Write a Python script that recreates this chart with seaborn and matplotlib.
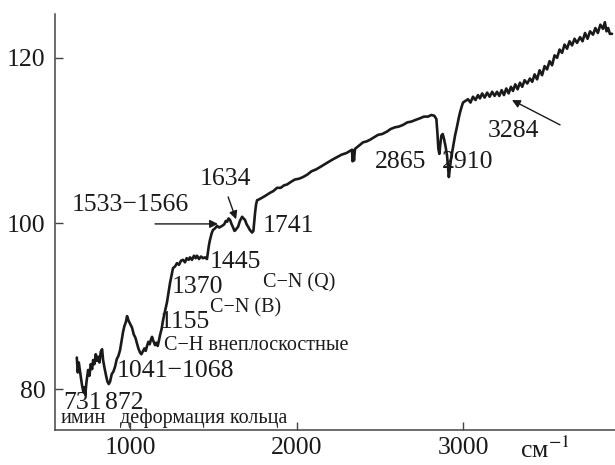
"""IR spectrum with band assignments, redrawn with seaborn."""

import matplotlib

matplotlib.use("Agg")
import matplotlib.pyplot as plt
import pandas as pd
import seaborn as sns

# Wavenumber (cm^-1) and transmittance
wavenumber = [
    680, 686, 692, 700, 706, 712, 720, 726, 731, 738, 748, 756, 764, 772, 778, 786,
    794, 802, 808, 816, 824, 832, 838, 846, 856, 864, 872, 880, 890, 900, 910, 920,
    930, 940, 950, 958, 966, 975, 982, 990, 1000, 1012, 1022, 1032, 1042, 1050, 1060,
    1068, 1076, 1086, 1094, 1102, 1110, 1118, 1126, 1132, 1140, 1150, 1158, 1166,
    1174, 1180, 1190, 1198, 1210, 1222, 1232, 1240, 1250, 1258, 1270, 1282, 1294,
    1306, 1318, 1330, 1340, 1352, 1360, 1372, 1384, 1394, 1402, 1414, 1426, 1438,
    1450, 1462, 1468, 1474, 1480, 1490, 1498, 1510, 1523, 1535, 1553, 1566, 1575,
    1583, 1592, 1601, 1610, 1619, 1627, 1634, 1641, 1649, 1660, 1673, 1682, 1691,
    1700, 1709, 1720, 1733, 1741, 1751, 1757, 1763, 1775, 1793, 1810, 1825, 1841,
    1860, 1883, 1905, 1925, 1943, 1965, 1990, 2015, 2039, 2065, 2090, 2115, 2141,
    2165, 2190, 2215, 2243, 2270, 2300, 2325, 2333, 2337, 2341, 2345, 2351, 2375,
    2400, 2420, 2441, 2465, 2490, 2515, 2544, 2565, 2590, 2615, 2640, 2665, 2690,
    2715, 2742, 2765, 2790, 2810, 2828, 2840, 2846, 2852, 2858, 2864, 2870, 2878,
    2886, 2896, 2904, 2910, 2915, 2920, 2928, 2940, 2952, 2964, 2974, 2982, 2992,
    3000, 3015, 3030, 3045, 3060, 3075, 3090, 3102, 3115, 3130, 3145, 3160, 3175,
    3190, 3204, 3218, 3232, 3246, 3260, 3274, 3288, 3300, 3314, 3328, 3342, 3356,
    3370, 3386, 3402, 3416, 3430, 3445, 3460, 3475, 3490, 3505, 3520, 3535, 3550,
    3565, 3580, 3595, 3610, 3625, 3640, 3655, 3670, 3685, 3703, 3718, 3733, 3748,
    3763, 3781, 3795, 3810, 3825, 3841, 3852, 3862, 3872, 3882, 3895,
]
transmittance = [
    83.8, 82.0, 83.2, 82.0, 81.2, 80.4, 79.6, 80.2, 79.3, 80.8, 82.3, 81.6, 83.0, 82.4,
    83.5, 83.0, 84.2, 83.4, 83.9, 83.2, 84.5, 84.8, 83.5, 82.6, 81.6, 80.9, 80.6, 80.9,
    81.8, 82.1, 82.7, 83.6, 84.0, 84.7, 85.9, 86.9, 87.6, 88.1, 88.8, 88.3, 87.9, 87.4,
    86.6, 86.2, 85.5, 84.9, 84.4, 84.2, 84.5, 84.9, 84.6, 85.2, 85.7, 85.4, 86.0, 86.3,
    85.8, 85.3, 85.6, 85.2, 85.9, 86.5, 87.3, 88.3, 89.4, 90.5, 91.8, 92.8, 93.8, 94.6,
    94.8, 95.2, 95.0, 95.5, 95.6, 95.3, 95.8, 95.6, 95.9, 95.6, 96.1, 95.8, 96.1, 95.7,
    96.0, 95.8, 95.9, 95.7, 96.6, 97.4, 98.0, 98.8, 99.2, 99.4, 99.7, 99.5, 99.7, 99.9,
    100.3, 100.2, 100.6, 100.4, 99.9, 99.5, 99.1, 99.2, 99.4, 99.6, 100.3, 100.8, 100.6,
    100.4, 99.9, 99.6, 99.2, 98.9, 99.1, 101.3, 102.3, 102.8, 102.9, 103.1, 103.3, 103.5,
    103.7, 103.9, 104.3, 104.3, 104.6, 104.7, 105.0, 105.3, 105.4, 105.6, 105.9, 106.3,
    106.5, 106.8, 107.1, 107.4, 107.7, 108.0, 108.3, 108.5, 108.8, 108.9, 107.5, 108.8,
    107.6, 109.0, 109.4, 109.8, 109.9, 110.1, 110.4, 110.7, 110.8, 111.1, 111.4, 111.6,
    111.7, 111.9, 112.2, 112.3, 112.5, 112.7, 112.9, 112.9, 113.1, 113.0, 112.6, 111.0,
    109.0, 108.4, 109.6, 110.6, 110.8, 110.2, 109.2, 108.2, 106.8, 105.6, 106.5, 107.8,
    109.2, 110.6, 111.7, 112.7, 113.4, 114.1, 114.6, 114.8, 115.0, 114.6, 115.3, 114.9,
    115.5, 115.1, 115.7, 115.2, 115.8, 115.3, 115.9, 115.4, 115.9, 115.4, 116.1, 115.5,
    116.3, 115.7, 116.5, 116.0, 116.8, 116.2, 117.0, 116.5, 117.3, 116.9, 117.5, 117.1,
    118.0, 117.4, 118.5, 117.9, 119.0, 118.6, 119.6, 119.1, 120.3, 120.0, 121.0, 120.6,
    121.6, 121.1, 122.0, 121.5, 122.3, 121.8, 122.5, 122.0, 123.0, 122.3, 123.2, 122.8,
    123.6, 123.0, 124.0, 123.5, 124.3, 123.2, 123.6, 122.9, 122.9,
]

x_ticks = [1000, 2000, 3000]
y_ticks = [80, 100, 120]

# Large band labels: (text, left x, baseline y)
band_labels = [
    ("1533\u22121566", 652, 101.5),
    ("1634", 1420, 104.65),
    ("1741", 1799, 99.0),
    ("1445", 1480, 94.6),
    ("1370", 1252, 91.6),
    ("1155", 1180, 87.4),
    ("1041\u22121068", 922, 81.45),
    ("731", 598, 77.6),
    ("872", 850, 77.6),
    ("2865", 2471, 106.7),
    ("2910", 2874, 106.7),
    ("3284", 3150, 110.45),
]
# Small assignment labels
group_labels = [
    ("C\u2212N (Q)", 1799, 92.3),
    ("C\u2212N (B)", 1480, 89.2),
    ("C\u2212H внеплоскостные", 1204, 84.7),
    ("имин", 580, 75.85),
    ("деформация кольца", 940, 75.85),
]
# Arrows: (tail, head)
arrows = [
    ((1150, 99.94), (1528, 99.94)),
    ((1589, 103.2), (1637, 100.5)),
    ((3583, 111.9), (3294, 114.9)),
]

sns.set_style("ticks")
plt.rcParams["font.family"] = ["Liberation Serif", "DejaVu Serif"]
plt.rcParams["mathtext.fontset"] = "stix"

df = pd.DataFrame({"wavenumber": wavenumber, "transmittance": transmittance})

fig = plt.figure(figsize=(6.15, 4.65), dpi=100)
ax = fig.add_axes([0.0894, 0.0753, 0.9106, 0.8947])
sns.lineplot(
    data=df, x="wavenumber", y="transmittance", sort=False, estimator=None,
    color="#1a1a1a", linewidth=1.9, ax=ax,
)

ax.set_xlim(549, 3913)
ax.set_ylim(75.05, 125.3)
ax.set_xticks(x_ticks)
ax.set_yticks(y_ticks)
ax.set_xlabel("")
ax.set_ylabel("")
ax.tick_params(direction="in", length=6, width=1, color="#444444",
               labelsize=18.5, labelcolor="#1a1a1a")
ax.tick_params(axis="x", pad=5)
ax.tick_params(axis="y", pad=7)
sns.despine(ax=ax)
for side in ("left", "bottom"):
    ax.spines[side].set_color("#444444")
    ax.spines[side].set_linewidth(1.1)

for text, x, y in band_labels:
    ax.text(x, y, text, fontsize=18.5, ha="left", va="baseline", color="#1a1a1a")
for text, x, y in group_labels:
    ax.text(x, y, text, fontsize=14.5, ha="left", va="baseline", color="#1a1a1a")
for tail, head in arrows:
    ax.annotate("", xy=head, xytext=tail,
                arrowprops=dict(arrowstyle="-|>", color="#1a1a1a", lw=1.0,
                                mutation_scale=12, shrinkA=0, shrinkB=0))

ax.text(3342, -0.068, "см$^{-1}$", transform=ax.get_xaxis_transform(),
        fontsize=18.5, ha="left", va="baseline", color="#1a1a1a", clip_on=False)

fig.savefig("out.png", dpi=100)
